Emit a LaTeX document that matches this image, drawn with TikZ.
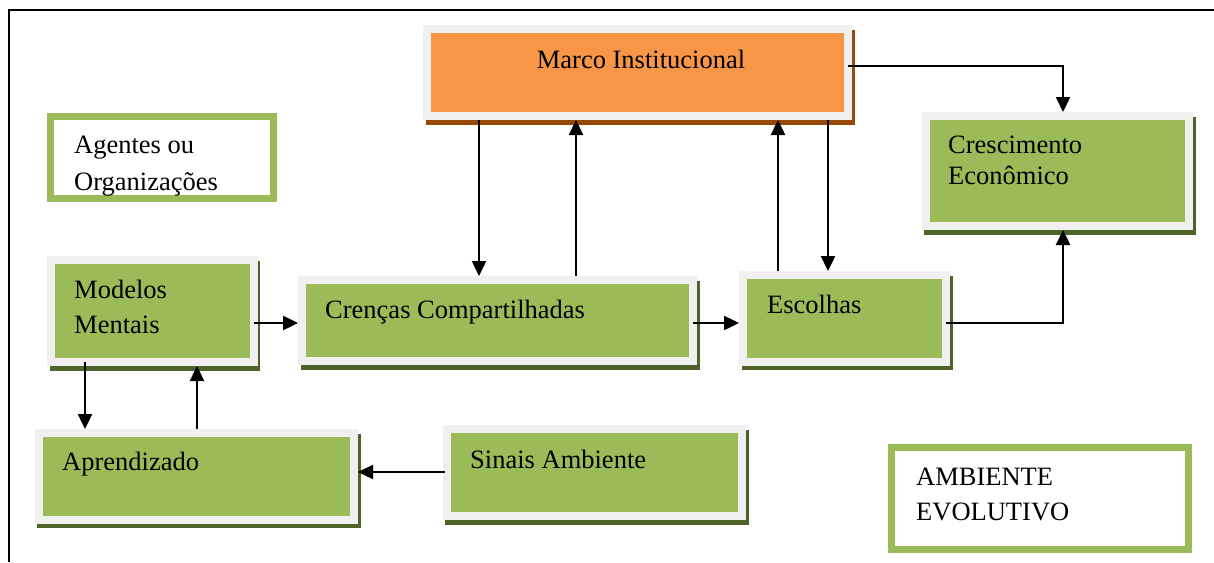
\documentclass[tikz,border=0pt]{standalone}
\usepackage{fontspec}
\setmainfont{Liberation Serif}
\usetikzlibrary{arrows.meta,calc}
\definecolor{gfill}{HTML}{9BBB59}
\definecolor{ofill}{HTML}{F79646}
\definecolor{framegray}{HTML}{F0F0F0}
\definecolor{gshadow}{HTML}{4F6228}
\definecolor{oshadow}{HTML}{984807}
\tikzset{
  boxbase/.style 2 args={rectangle, draw=framegray, line width=8pt, fill=#1, inner sep=0pt,
    preaction={draw=#2, fill=#2, line width=8pt, transform canvas={xshift=2.5pt, yshift=-4.5pt}}},
  greenbox/.style={boxbase={gfill}{gshadow}},
  orangebox/.style={boxbase={ofill}{oshadow}},
  labelbox/.style={rectangle, draw=gfill, line width=7pt, fill=white, inner sep=0pt},
  txt/.style={inner sep=0pt, font=\fontsize{26.5}{35}\selectfont, align=left},
  arr/.style={line width=2.4pt, -{Triangle[length=15pt,width=14pt]}},
  plain/.style={line width=2.4pt}
}
\begin{document}
\begin{tikzpicture}[x=1pt,y=-1pt]
\useasboundingbox (0,0) rectangle (1214,562);
% frame
\coordinate (fr0) at (9,562);
\coordinate (fr1) at (9,10);
\coordinate (fr2) at (1214,10);
\draw[line width=2pt] (fr0) -- (fr1) -- (fr2);
% boxes
\node[orangebox, minimum width=421pt, minimum height=87pt] (marco) at (637.5,72.5) {};
\node[greenbox, minimum width=263.5pt, minimum height=110pt] (cres) at (1057.25,171) {};
\node[greenbox, minimum width=202.5pt, minimum height=102pt] (mod) at (152.25,311) {};
\node[greenbox, minimum width=391pt, minimum height=81pt] (cren) at (497.5,320.5) {};
\node[greenbox, minimum width=203pt, minimum height=86.5pt] (esc) at (844.5,318.25) {};
\node[greenbox, minimum width=315.5pt, minimum height=86.5pt] (apr) at (196.25,476.25) {};
\node[greenbox, minimum width=295.5pt, minimum height=87pt] (sin) at (594.25,472.5) {};
\node[labelbox, minimum width=223pt, minimum height=82pt] (ag) at (162,157.5) {};
\node[labelbox, minimum width=297pt, minimum height=102pt] (amb) at (1040,498.5) {};
% texts (base anchor of a multi-line node is its last line)
\node[txt, anchor=base] (tmarco) at (641,68) {Marco Institucional};
\node[txt, anchor=base west] (tcres) at (948,184) {Crescimento\\[-4pt]Econômico};
\node[txt, anchor=base west] (tmod) at (74,333) {Modelos\\Mentais};
\node[txt, anchor=base west] (tcren) at (325,318) {Crenças Compartilhadas};
\node[txt, anchor=base west] (tesc) at (767,313) {Escolhas};
\node[txt, anchor=base west] (tapr) at (62,470) {Aprendizado};
\node[txt, anchor=base west] (tsin) at (470,468) {Sinais Ambiente};
\node[txt, anchor=base west] (tag) at (74,190) {Agentes ou\\[2pt]Organizações};
\node[txt, anchor=base west] (tamb) at (916,520) {AMBIENTE\\EVOLUTIVO};
% connector guide coordinates
\coordinate (x479) at (479,0);
\coordinate (x576) at (576,0);
\coordinate (x778) at (778,0);
\coordinate (x828) at (828,0);
\coordinate (x1063) at (1063,0);
\coordinate (x85) at (85,0);
\coordinate (x197) at (197,0);
\coordinate (y66) at (0,66);
\coordinate (y323) at (0,323);
\coordinate (y472) at (0,472);
% connectors
\draw[arr] (marco.south -| x479) -- (cren.north -| x479);
\draw[arr] (cren.north -| x576) -- (marco.south -| x576);
\draw[arr] (esc.north -| x778) -- (marco.south -| x778);
\draw[arr] (marco.south -| x828) -- (esc.north -| x828);
\draw[arr] ([xshift=-4pt]marco.east |- y66) -| (cres.north -| x1063);
\draw[arr] ([xshift=-4pt]esc.east |- y323) -| (cres.south -| x1063);
\draw[arr] ([xshift=-4pt]mod.east |- y323) -- (cren.west |- y323);
\draw[arr] ([xshift=-4pt]cren.east |- y323) -- (esc.west |- y323);
\draw[arr] ([yshift=4pt]mod.south -| x85) -- (apr.north -| x85);
\draw[arr] (apr.north -| x197) -- (mod.south -| x197);
\draw[arr] ([xshift=2pt]sin.west |- y472) -- (apr.east |- y472);
\end{tikzpicture}
\end{document}
